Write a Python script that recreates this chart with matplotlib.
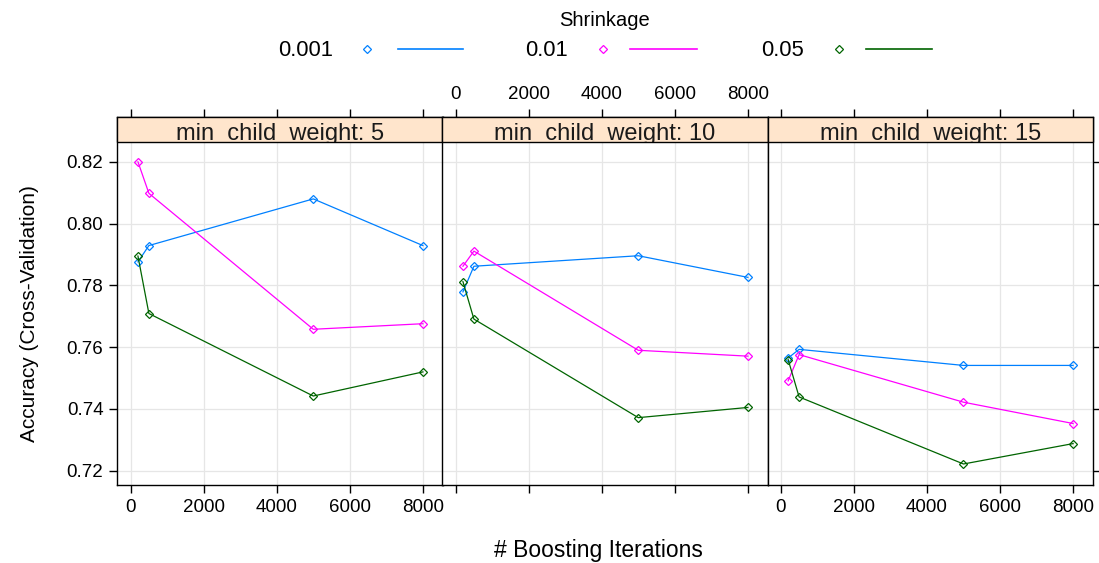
import matplotlib.pyplot as plt
from matplotlib.lines import Line2D
from matplotlib.patches import Rectangle
from matplotlib.transforms import Bbox, TransformedBbox

plt.rcParams['font.family'] = ['Liberation Sans', 'DejaVu Sans']

# Boosting iterations (x) and cross-validated accuracy per panel
iterations = [200, 500, 5000, 8000]
shrinkage = ['0.001', '0.01', '0.05']
colors = ['#0080FF', '#FF00FF', '#006400']
min_child_weight = [5, 10, 15]

acc_mcw5 = {
    '0.001': [0.7876, 0.7929, 0.8080, 0.7929],
    '0.01': [0.8200, 0.8098, 0.7658, 0.7676],
    '0.05': [0.7895, 0.7709, 0.7442, 0.7520],
}
acc_mcw10 = {
    '0.001': [0.7779, 0.7862, 0.7896, 0.7826],
    '0.01': [0.7862, 0.7911, 0.7590, 0.7571],
    '0.05': [0.7812, 0.7691, 0.7372, 0.7405],
}
acc_mcw15 = {
    '0.001': [0.7565, 0.7593, 0.7541, 0.7541],
    '0.01': [0.7491, 0.7576, 0.7422, 0.7353],
    '0.05': [0.7560, 0.7439, 0.7222, 0.7288],
}
panels = [acc_mcw5, acc_mcw10, acc_mcw15]

xticks = [0, 2000, 4000, 6000, 8000]
yticks = [0.72, 0.74, 0.76, 0.78, 0.80, 0.82]

W, H = 1099, 563
fig = plt.figure(figsize=(W / 100, H / 100), dpi=100)


def fx(px):
    return px / W


def fy(py):
    return 1 - py / H


# panel geometry in pixels
lefts = [117.3, 442.3, 767.5]
pw = 325.3
top, bottom = 116.7, 485.0
strip_h = 25.0
strip_frac = strip_h / (bottom - top)

for i, (left, data, mcw) in enumerate(zip(lefts, panels, min_child_weight)):
    ax = fig.add_axes([fx(left), fy(bottom), pw / W, (bottom - top) / H])
    ax.set_xlim(-365, 8540)
    ax.set_ylim(0.7154, 0.8346)
    ax.set_xticks(xticks)
    ax.set_yticks(yticks)
    ax.grid(True, color='#e6e6e6', lw=0.9)
    ax.set_axisbelow(True)

    for name, c in zip(shrinkage, colors):
        ax.plot(iterations, data[name], color=c, lw=0.9, marker='D',
                markersize=4.2, fillstyle='none', markeredgewidth=0.9,
                zorder=3)

    for s in ax.spines.values():
        s.set_color('black')
        s.set_linewidth(1.0)

    # strip on top of the panel; the label is clipped to the strip box
    strip = Rectangle((0, 1 - strip_frac), 1, strip_frac,
                      transform=ax.transAxes, facecolor='#FFE5CC',
                      edgecolor='black', lw=1.0, zorder=5, clip_on=False)
    ax.add_patch(strip)
    t = ax.text(0.5, 1 - strip_frac + 0.0058, f'min_child_weight: {mcw}',
                transform=ax.transAxes, ha='center', va='baseline',
                fontsize=17, color='#1a1a1a', zorder=6, clip_on=True)
    t.set_clip_path(None)
    t.set_clip_box(TransformedBbox(Bbox([[0, 1 - strip_frac], [1, 1]]),
                                   ax.transAxes))

    ax.tick_params(direction='out', length=6, width=1.0, color='black',
                   labelsize=13.5, pad=4)
    ax.tick_params(axis='x', top=True, bottom=True,
                   labelbottom=(i != 1), labeltop=(i == 1))
    ax.tick_params(axis='y', left=(i == 0), right=(i == 2),
                   labelleft=(i == 0), labelright=False)

fig.text(fx(30), fy(314), 'Accuracy (Cross-Validation)', rotation=90,
         ha='center', va='center', fontsize=15)
fig.text(fx(598), fy(551), '# Boosting Iterations', ha='center',
         va='center', fontsize=16.5)

# legend across the top
fig.text(fx(605), fy(20), 'Shrinkage', ha='center', va='center', fontsize=14.5)
key_text_x = [306, 547, 783]
key_mark_x = [367, 603, 839]
key_line_x = [(398, 463), (630, 697), (866, 932)]
for name, c, tx, mx, (l0, l1) in zip(shrinkage, colors, key_text_x,
                                     key_mark_x, key_line_x):
    fig.text(fx(tx), fy(50), name, ha='center', va='center', fontsize=15.8)
    fig.add_artist(Line2D([fx(mx)], [fy(49)], marker='D', markersize=4,
                          fillstyle='none', markeredgewidth=0.9, color=c,
                          transform=fig.transFigure))
    fig.add_artist(Line2D([fx(l0), fx(l1)], [fy(49), fy(49)], color=c,
                          lw=1.2, transform=fig.transFigure))

fig.savefig('out.png', dpi=100)
